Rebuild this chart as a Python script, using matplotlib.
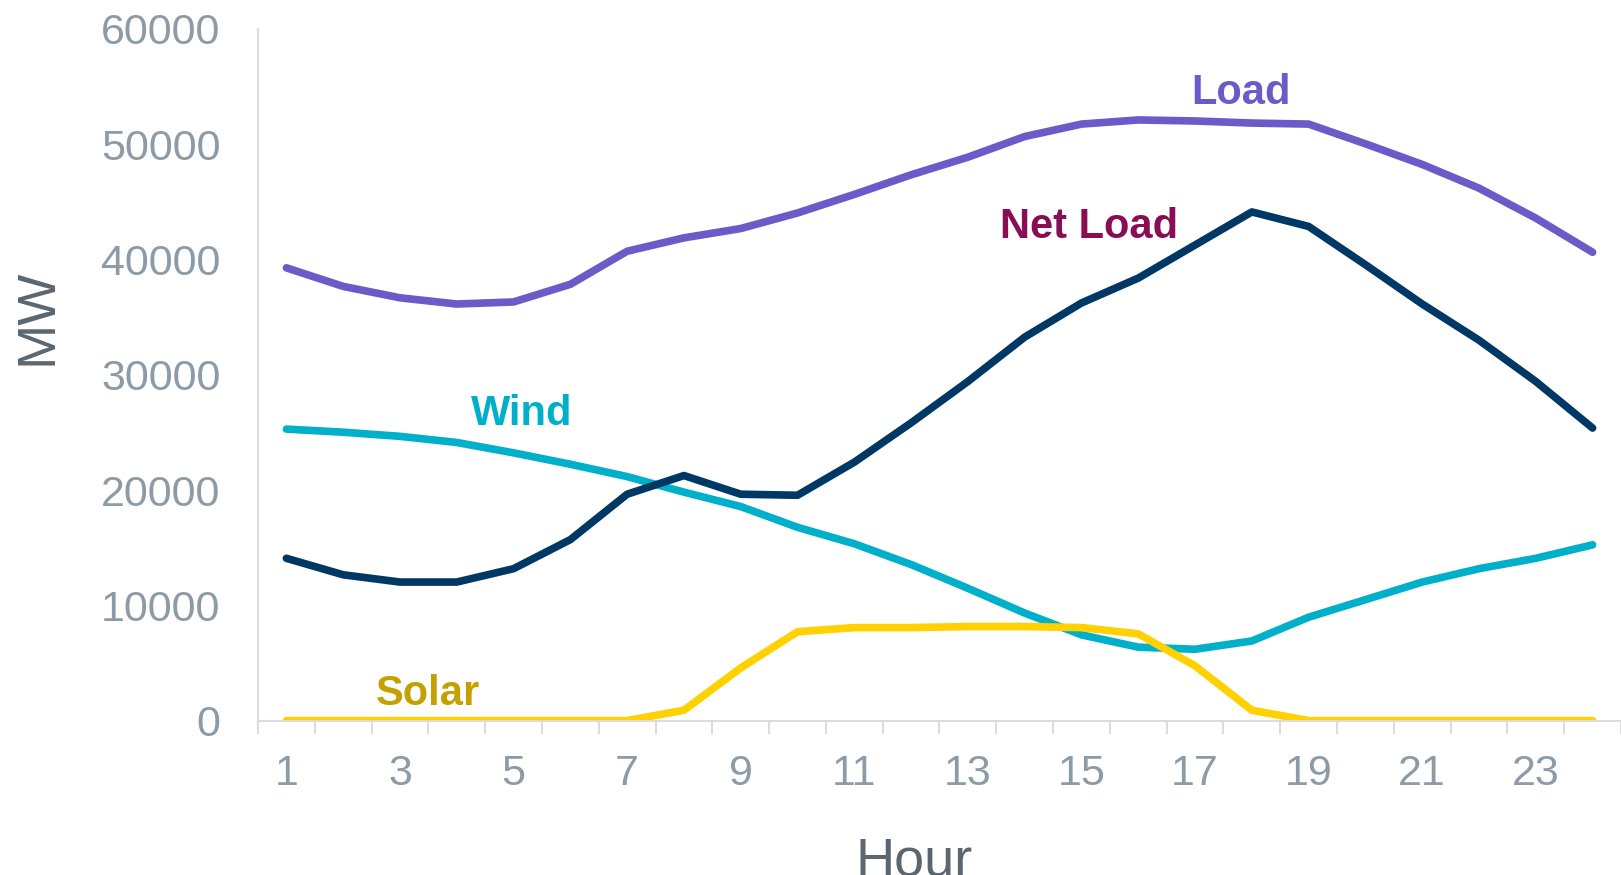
import numpy as np
import matplotlib
matplotlib.use("Agg")
import matplotlib.pyplot as plt
from matplotlib.ticker import FixedLocator

plt.rcParams['font.family'] = ['Liberation Sans', 'DejaVu Sans']

# hourly values, MW
hours = list(range(1, 25))
load = [39280, 37670, 36680, 36140, 36320, 37850, 40720, 41880, 42690, 44040,
        45650, 47350, 48880, 50670, 51750, 52110, 52020, 51840, 51750, 50040,
        48250, 46190, 43590, 40630]
net_load = [14080, 12650, 12020, 12020, 13180, 15700, 19640, 21260, 19640, 19550,
            22420, 25830, 29420, 33270, 36230, 38390, 41260, 44130, 42870, 39550,
            36140, 33000, 29420, 25380]
wind = [25290, 25020, 24660, 24130, 23230, 22240, 21170, 19820, 18570, 16770,
        15340, 13540, 11480, 9330, 7440, 6370, 6190, 6910, 8970, 10490,
        12020, 13180, 14080, 15250]
solar = [0, 0, 0, 0, 0, 0, 0, 900, 4570, 7710,
         8070, 8070, 8160, 8160, 8070, 7530, 4750, 900, 0, 0,
         0, 0, 0, 0]

fig = plt.figure(figsize=(16.21, 8.75), dpi=100)
ax = fig.add_axes([258 / 1621, 1 - 720.6 / 875, 1 - 258 / 1621, (720.6 - 29) / 875])

lw = 5.5
style = dict(lw=lw, solid_capstyle='round', solid_joinstyle='round')
ax.plot(hours, load, color='#6A5BC9', **style)
ax.plot(hours, wind, color='#00B0CA', **style)
ax.plot(hours, solar, color='#FFD100', **style)
ax.plot(hours, net_load, color='#003865', **style)

# series labels
lab = dict(fontsize=30, fontweight='bold', ha='center', va='center')
ax.text(17.81, 54450, 'Load', color='#6A5BC9', **lab)
ax.text(15.13, 42850, 'Net Load', color='#8A0C55', **lab)
ax.text(5.14, 26630, 'Wind', color='#00B0CA', **lab)
ax.text(3.49, 2340, 'Solar', color='#C4A000', **lab)

ax.set_xlim(0.5, 24.5)
ax.set_ylim(0, 60000)
ax.set_yticks(range(0, 60001, 10000))
ax.set_xticks(range(1, 24, 2))
ax.xaxis.set_minor_locator(FixedLocator(np.arange(0.5, 25, 1)))
ax.tick_params(axis='x', which='major', length=0, pad=24, labelsize=31, labelcolor='#8C9BA6')
ax.tick_params(axis='x', which='minor', length=9.4, width=1.5, color='#DCDCDC', direction='out')
ax.tick_params(axis='y', length=0, pad=27, labelsize=31, labelcolor='#8C9BA6')

for s in ['top', 'right']:
    ax.spines[s].set_visible(False)
for s in ['left', 'bottom']:
    ax.spines[s].set_color('#DCDCDC')
    ax.spines[s].set_linewidth(1.5)
ax.patch.set_alpha(0)

fig.text(52 / 1621, 1 - 317 / 875, 'MW', fontsize=39, color='#5B6770', rotation=90,
         rotation_mode='anchor', ha='center', va='baseline')
fig.text(914 / 1621, 1 - 875 / 875, 'Hour', fontsize=39, color='#5B6770',
         ha='center', va='baseline')

fig.savefig('out.png', dpi=100)
